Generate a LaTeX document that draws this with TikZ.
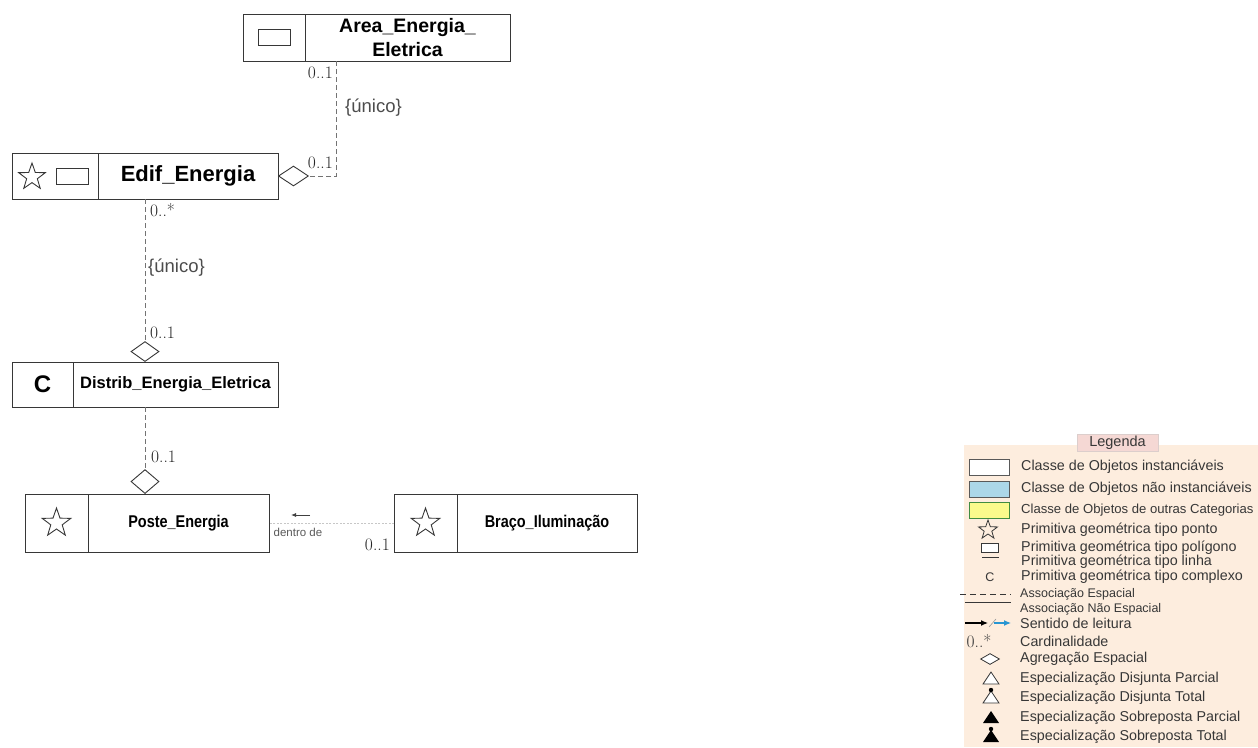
\documentclass[tikz,border=0pt]{standalone}
\usepackage{fontspec}
\newfontfamily\sansfont{Liberation Sans}
\newfontfamily\narrowsans[FakeStretch=0.85]{Liberation Sans}
\usepackage{tikz}
\usetikzlibrary{shapes.geometric,arrows.meta,positioning}

\definecolor{legbg}{RGB}{253,237,222}
\definecolor{legtab}{RGB}{245,216,212}
\definecolor{legblue}{RGB}{172,215,232}
\definecolor{legyellow}{RGB}{250,250,140}
\definecolor{legarrow}{RGB}{40,150,210}
\definecolor{legtext}{RGB}{55,55,55}
\definecolor{boxline}{RGB}{55,55,55}

\begin{document}
\begin{tikzpicture}[x=1pt,y=-1pt,
  box/.style={draw=boxline, line width=1pt, inner sep=0pt, outer sep=0pt},
  icon/.style={draw=boxline, line width=0.9pt, inner sep=0pt},
  staricon/.style={star, star points=5, star point ratio=2.5, draw=boxline, line width=0.9pt, inner sep=0pt},
  aggr/.style={diamond, draw=boxline, line width=0.9pt, fill=white, inner sep=0pt, minimum width=30pt, minimum height=20pt},
  assoc/.style={draw=black!55, line width=0.9pt, dash pattern=on 5pt off 3pt},
  faint/.style={draw=black!22, line width=0.8pt, dash pattern=on 2pt off 1.5pt},
  card/.style={text=black!85, inner sep=0pt, font=\fontsize{17.5}{18}\selectfont},
  role/.style={text=black!70, inner sep=0pt, font={\sansfont\fontsize{18.5}{20}\selectfont}},
  legtxt/.style={text=legtext, inner sep=0pt, anchor=west, font={\sansfont\fontsize{14.3}{15}\selectfont}},
  legsmall/.style={legtxt, font={\sansfont\fontsize{12.5}{14}\selectfont}}]
%%Location
\useasboundingbox (0,0) rectangle (1258,747);

%%Classes
\node[box, minimum width=205pt, minimum height=47pt, anchor=north west, align=center,
  font={\sansfont\bfseries\fontsize{19.5}{24}\selectfont}] (area) at (305,14) {Area\_Energia\_\\Eletrica};
\node[box, minimum width=62pt, minimum height=47pt, anchor=north east] (areaIcon) at (area.north west) {};
\node[icon, minimum width=32pt, minimum height=16pt] (areaPoly) at (areaIcon) {};

\node[box, minimum width=180pt, minimum height=46pt, anchor=north west,
  font={\sansfont\bfseries\fontsize{22}{24}\selectfont}] (edif) at (98,153) {Edif\_Energia};
\node[box, minimum width=86pt, minimum height=46pt, anchor=north east] (edifIcon) at (edif.north west) {};
\node[staricon, minimum size=28pt] (edifStar) at (32,177) {};
\node[icon, minimum width=32pt, minimum height=16pt] (edifPoly) at (72,176) {};

\node[box, minimum width=205pt, minimum height=45pt, anchor=north west,
  font={\sansfont\bfseries\fontsize{16.5}{18}\selectfont}] (distrib) at (73,362) {Distrib\_Energia\_Eletrica};
\node[box, minimum width=61pt, minimum height=45pt, anchor=north east,
  font={\sansfont\bfseries\fontsize{24}{24}\selectfont}] (distribIcon) at (distrib.north west) {C};

\node[box, minimum width=181pt, minimum height=58pt, anchor=north west,
  font={\narrowsans\bfseries\fontsize{17}{18}\selectfont}] (poste) at (88,494) {Poste\_Energia};
\node[box, minimum width=63pt, minimum height=58pt, anchor=north east] (posteIcon) at (poste.north west) {};
\node[staricon, minimum size=30pt] (posteStar) at (posteIcon) {};

\node[box, minimum width=63pt, minimum height=58pt, anchor=north west] (bracoIcon) at (394,494) {};
\node[box, minimum width=180pt, minimum height=58pt, anchor=north west,
  font={\narrowsans\bfseries\fontsize{17}{18}\selectfont}] (braco) at (bracoIcon.north east) {Braço\_Iluminação};
\node[staricon, minimum size=30pt] (bracoStar) at (bracoIcon) {};

%%Aggregations
\node[aggr, anchor=west] (edifDia) at (edif.east) {};
\node[aggr, minimum width=28pt, anchor=south] (distribDia) at (145,362) {};
\node[aggr, minimum width=28pt, minimum height=24pt, anchor=south] (posteDia) at (145,494) {};

\draw[assoc] ([xshift=31pt]area.south west) |- (edifDia.east);
\draw[assoc] (edif.south -| distribDia.north) -- (distribDia.north);
\draw[assoc] (distrib.south -| posteDia.north) -- (posteDia.north);
\draw[faint] (bracoIcon.west) -- (poste.east);

%%Label
\node[card, anchor=east] (cardAreaTop) at (333,73) {0..1};
\node[card, anchor=east] (cardAreaBot) at (333,163) {0..1};
\node[role, anchor=west] (unicoArea) at (345,108) {\{único\}};
\node[card, anchor=west] (cardEdif) at (150,210) {0..*};
\node[role, anchor=west] (unicoEdif) at (148,268) {\{único\}};
\node[card, anchor=west] (cardDistribTop) at (150,333) {0..1};
\node[card, anchor=west] (cardDistribBot) at (151,457) {0..1};
\node[card, anchor=east] (cardBraco) at (390,545) {0..1};
\node[text=black!65, inner sep=0pt, font={\sansfont\fontsize{11.5}{13}\selectfont}] (dentro) at (298,532) {dentro de};
\coordinate (readTail) at (310,515);
\coordinate (readHead) at (291,515);
\draw[black!75, line width=0.8pt, -{Latex[length=5pt,width=4pt]}] (readTail) -- (readHead);

%%Legend
\fill[legbg] (964,445) rectangle (1258,747);
\node[draw=legtab!80!black!60, fill=legtab, line width=0.6pt, minimum width=81pt, minimum height=17pt, inner sep=0pt,
  text=legtext, font={\sansfont\fontsize{14.5}{16}\selectfont}] (legTitle) at (1117.5,442.5) {Legenda};

\node[draw=black!65, line width=1pt, fill=white, minimum width=40pt, minimum height=16pt, inner sep=0pt] (legInst) at (989,467) {};
\node[draw=black!65, line width=1pt, fill=legblue, minimum width=40pt, minimum height=16pt, inner sep=0pt] (legAbst) at (989,489) {};
\node[draw=black!40!green!50!gray, line width=1pt, fill=legyellow, minimum width=40pt, minimum height=16pt, inner sep=0pt] (legOther) at (989,510) {};
\node[staricon, minimum size=20pt, line width=0.8pt] (legStar) at (988,530) {};
\node[icon, fill=white, minimum width=17pt, minimum height=9pt, line width=0.8pt] (legPoly) at (990,548) {};
\draw[boxline, line width=0.8pt] (982,557) -- (999,557);
\node[text=legtext, inner sep=0pt, font={\sansfont\fontsize{12.5}{14}\selectfont}] (legC) at (990,577) {C};
\draw[boxline, line width=0.9pt, dash pattern=on 6pt off 4pt] (960,594) -- (1011,594);
\draw[boxline, line width=0.9pt] (965,602) -- (1011,602);
\draw[black, line width=1.2pt, -{Latex[length=7pt,width=6pt]}] (965,623) -- (988,623);
\draw[black!40, line width=0.6pt] (989,627) -- (996,619);
\draw[legarrow, line width=1.2pt, -{Latex[length=7pt,width=6pt]}] (994,623) -- (1011,623);
\node[card, text=legtext] (legCard) at (979,641) {0..*};
\node[aggr, minimum width=19pt, minimum height=11pt, line width=0.8pt] (legAggr) at (990,659) {};
\draw[boxline, line width=0.8pt, fill=white] (983,684) -- (999,684) -- (991,672) -- cycle;
\draw[boxline, line width=0.8pt, fill=white] (983,703) -- (999,703) -- (991,691) -- cycle;
\fill[black] (991,690) circle (2.2pt);
\fill[black] (983,723) -- (999,723) -- (991,711) -- cycle;
\fill[black] (983,742) -- (999,742) -- (991,730) -- cycle;
\fill[black] (991,729) circle (2.2pt);

\node[legtxt] (legRow1) at (1021,467) {Classe de Objetos instanciáveis};
\node[legtxt] (legRow2) at (1021,489) {Classe de Objetos não instanciáveis};
\node[legtxt, font={\sansfont\fontsize{13.1}{15}\selectfont}] (legRow3) at (1021,510) {Classe de Objetos de outras Categorias};
\node[legtxt] (legRow4) at (1021,530) {Primitiva geométrica tipo ponto};
\node[legtxt] (legRow5) at (1021,548) {Primitiva geométrica tipo polígono};
\node[legtxt] (legRow6) at (1021,562) {Primitiva geométrica tipo linha};
\node[legtxt] (legRow7) at (1021,577) {Primitiva geométrica tipo complexo};
\node[legsmall] (legRow8) at (1020,594) {Associação Espacial};
\node[legsmall] (legRow9) at (1020,609) {Associação Não Espacial};
\node[legtxt] (legRow10) at (1020,623) {Sentido de leitura};
\node[legtxt] (legRow11) at (1020,641) {Cardinalidade};
\node[legtxt] (legRow12) at (1020,659) {Agregação Espacial};
\node[legtxt] (legRow13) at (1020,679) {Especialização Disjunta Parcial};
\node[legtxt] (legRow14) at (1020,698) {Especialização Disjunta Total};
\node[legtxt] (legRow15) at (1020,718) {Especialização Sobreposta Parcial};
\node[legtxt] (legRow16) at (1020,737) {Especialização Sobreposta Total};

\end{tikzpicture}
\end{document}
